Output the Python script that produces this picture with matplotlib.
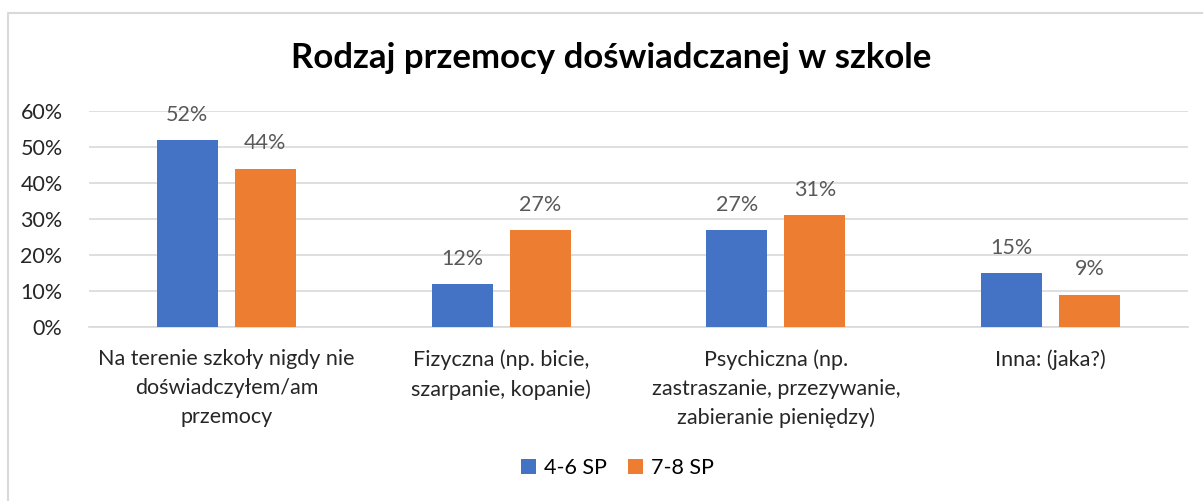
import matplotlib
matplotlib.use("Agg")
import matplotlib.pyplot as plt
from matplotlib.lines import Line2D
from matplotlib.patches import Patch
from matplotlib.ticker import FuncFormatter
import numpy as np

categories = [
    "Na terenie szkoły nigdy nie\ndoświadczyłem/am\nprzemocy",
    "Fizyczna (np. bicie,\nszarpanie, kopanie)",
    "Psychiczna (np.\nzastraszanie, przezywanie,\nzabieranie pieniędzy)",
    "Inna: (jaka?)",
]
series_names = ["4-6 SP", "7-8 SP"]
values_46 = [52, 12, 27, 15]
values_78 = [44, 27, 31, 9]
y_ticks = [0, 10, 20, 30, 40, 50, 60]

colors = ["#4472C4", "#ED7D31"]
plt.rcParams["font.family"] = ["Lato", "DejaVu Sans"]

W, H = 1203, 501
fig = plt.figure(figsize=(W / 100, H / 100), dpi=100)
ax = fig.add_axes([89 / W, 174 / H, (1188 - 89) / W, 216 / H])

x = np.arange(len(categories))
bw = 0.222
off = 0.142
for vals, sign, col in [(values_46, -1, colors[0]), (values_78, 1, colors[1])]:
    bars = ax.bar(x + sign * off, vals, width=bw, color=col, zorder=3)
    for b, v in zip(bars, vals):
        ax.annotate(f"{v}%", (b.get_x() + b.get_width() / 2, v),
                    xytext=(0, 11), textcoords="offset points",
                    ha="center", va="bottom", fontsize=15.5, color="#595959")

ax.set_xlim(-0.5, 3.5)
ax.set_ylim(0, 60)
ax.set_yticks(y_ticks)
ax.yaxis.set_major_formatter(FuncFormatter(lambda v, p: f"{v:.0f}%"))
ax.grid(axis="y", color="#D9D9D9", linewidth=1.2, zorder=0)
ax.set_axisbelow(True)
for s in ["top", "right", "left"]:
    ax.spines[s].set_visible(False)
ax.spines["bottom"].set_color("#D9D9D9")
ax.spines["bottom"].set_linewidth(1.2)
ax.tick_params(axis="both", length=0, labelsize=15.5, colors="#262626")
ax.tick_params(axis="y", pad=19)
ax.tick_params(axis="x", pad=16)
ax.set_xticks(x)
ax.set_xticklabels(categories, linespacing=1.55)

fig.text(0.508, 1 - 58 / H, "Rodzaj przemocy doświadczanej w szkole",
         ha="center", va="center", fontsize=25, fontweight="bold", color="#000000")

handles = [Patch(facecolor=c, edgecolor="none") for c in colors]
fig.legend(handles, series_names, loc="center", bbox_to_anchor=(0.513, 33 / H),
           ncol=2, frameon=False, fontsize=15.5, handlelength=0.7, handleheight=0.7,
           handletextpad=0.35, columnspacing=1.0)

# chart area border (left and top edges)
fig.add_artist(Line2D([8 / W, 8 / W, 1.0], [0, 488 / H, 488 / H],
                      transform=fig.transFigure, color="#D9D9D9", linewidth=1.5))

fig.savefig("out.png", dpi=100, facecolor="white")
